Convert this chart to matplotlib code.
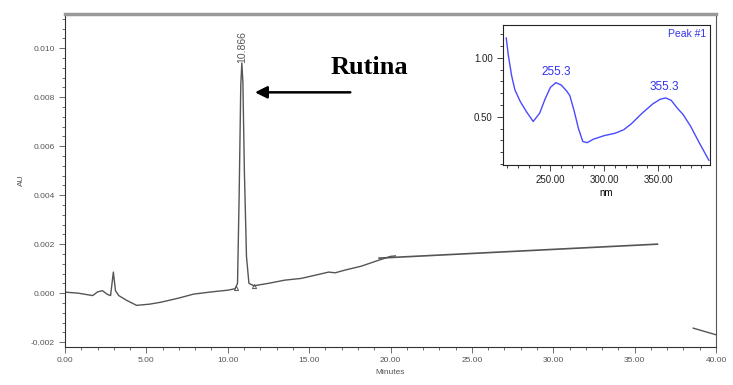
import matplotlib
matplotlib.use("Agg")
import matplotlib.pyplot as plt
from matplotlib.ticker import MultipleLocator, FormatStrFormatter

# chromatogram (minutes, AU)
t_min = [0.0, 0.8, 1.7, 2.0, 2.3, 2.6, 2.8, 2.97, 3.1, 3.3, 3.8, 4.4, 5.2, 5.9, 7.0, 7.9,
         9.0, 10.0, 10.45, 10.6, 10.7, 10.8, 10.866, 10.93, 11.02, 11.15, 11.3, 11.6,
         12.5, 13.5, 14.5, 15.3, 16.2, 16.6, 17.2, 18.2, 19.3, 20.0, 20.3]
au = [0.00004, 0.0, -0.0001, 0.00005, 0.0001, -0.00005, -0.0001, 0.00086, 0.0001, -0.0001,
      -0.0003, -0.0005, -0.00045, -0.00037, -0.0002, -0.00004, 0.00005, 0.00012, 0.00018,
      0.0004, 0.004, 0.0085, 0.0094, 0.0086, 0.0050, 0.0015, 0.0004, 0.0003,
      0.0004, 0.00053, 0.0006, 0.00072, 0.00086, 0.00083, 0.00094, 0.0011, 0.00135, 0.0015, 0.00152]
# drawn baseline segments
base_t = [19.3, 36.4]
base_au = [0.00143, 0.0020]
tail_t = [38.6, 40.0]
tail_au = [-0.00143, -0.0017]
peak_rt = "10.866"
peak_marks_t = [10.5, 11.6]
peak_marks_au = [0.0002, 0.0003]

# UV spectrum of peak #1 (nm, AU)
nm = [209, 211, 214, 217, 222, 228, 234, 240, 245, 250, 255, 260, 265, 268, 272, 276, 280,
      284, 290, 300, 310, 318, 325, 335, 345, 352, 357, 362, 368, 373, 380, 388, 397]
absb = [1.17, 1.02, 0.85, 0.73, 0.63, 0.54, 0.46, 0.53, 0.65, 0.75, 0.79, 0.77, 0.72, 0.68,
        0.55, 0.40, 0.29, 0.28, 0.31, 0.34, 0.36, 0.39, 0.44, 0.53, 0.61, 0.65, 0.66, 0.64,
        0.57, 0.52, 0.42, 0.28, 0.13]
spec_peaks = [255.3, 355.3]
spec_peak_abs = [0.79, 0.66]

grey = "#555555"
fig = plt.figure(figsize=(7.33, 3.85), dpi=100)
ax = fig.add_axes([0.0887, 0.0987, 0.8881, 0.865])
ax.plot(t_min, au, color=grey, lw=1.0)
ax.plot(base_t, base_au, color=grey, lw=1.2)
ax.plot(tail_t, tail_au, color=grey, lw=1.0)
ax.plot(peak_marks_t, peak_marks_au, ls="none", marker="^", ms=3, mfc="none", mec=grey, mew=0.7)
ax.text(10.866, 0.0094, peak_rt, rotation=90, ha="center", va="bottom", fontsize=7.5, color=grey,
        family="Liberation Sans")

ax.set_xlim(0, 40)
ax.set_ylim(-0.0022, 0.0114)
ax.xaxis.set_major_locator(MultipleLocator(5))
ax.xaxis.set_minor_locator(MultipleLocator(1))
ax.yaxis.set_major_locator(MultipleLocator(0.002))
ax.yaxis.set_minor_locator(MultipleLocator(0.0004))
ax.xaxis.set_major_formatter(FormatStrFormatter("%.2f"))
ax.yaxis.set_major_formatter(FormatStrFormatter("%.3f"))
ax.tick_params(which="both", direction="out", colors=grey, labelsize=6, width=0.6)
ax.tick_params(which="major", length=4)
ax.tick_params(which="minor", length=2)
for lab in ax.get_xticklabels() + ax.get_yticklabels():
    lab.set_family("Liberation Sans")
for s in ax.spines.values():
    s.set_color(grey)
ax.spines["top"].set_color("#999999")
ax.spines["top"].set_linewidth(2.5)
ax.spines["left"].set_color("#333333")
ax.spines["bottom"].set_color("#333333")
ax.set_xlabel("Minutes", fontsize=6, color=grey, family="Liberation Sans", labelpad=3)
ax.set_ylabel("AU", fontsize=6, color=grey, family="Liberation Sans", labelpad=4)

ax.annotate("", xy=(11.5, 0.0082), xytext=(17.7, 0.0082),
            arrowprops=dict(arrowstyle="-|>", color="black", lw=1.8, mutation_scale=18))
ax.text(16.3, 0.0092, "Rutina", fontsize=19, fontweight="bold", family="Liberation Serif",
        ha="left", va="center")

ins = fig.add_axes([0.6862, 0.5714, 0.2824, 0.3636])
ins.plot(nm, absb, color="#4a4aff", lw=1.0)
for x, y in zip(spec_peaks, spec_peak_abs):
    ins.text(x, y + 0.04, f"{x:.1f}", color="#3333ee", fontsize=8.5, ha="center", va="bottom",
             family="Liberation Sans")
ins.text(0.98, 0.97, "Peak #1", transform=ins.transAxes, color="#3333ee", fontsize=7.5,
         ha="right", va="top", family="Liberation Sans")
ins.set_xlim(206, 398)
ins.set_ylim(0.09, 1.28)
ins.xaxis.set_major_locator(MultipleLocator(50))
ins.xaxis.set_minor_locator(MultipleLocator(10))
ins.yaxis.set_major_locator(MultipleLocator(0.5))
ins.yaxis.set_minor_locator(MultipleLocator(0.1))
ins.xaxis.set_major_formatter(FormatStrFormatter("%.2f"))
ins.yaxis.set_major_formatter(FormatStrFormatter("%.2f"))
ins.tick_params(which="both", direction="out", labelsize=7, width=0.6, colors="#222222")
ins.tick_params(which="major", length=4)
ins.tick_params(which="minor", length=2)
for lab in ins.get_xticklabels() + ins.get_yticklabels():
    lab.set_family("Liberation Sans")
for s in ins.spines.values():
    s.set_color("#222222")
ins.set_xlabel("nm", fontsize=7, family="Liberation Sans", labelpad=2)

fig.savefig("out.png", dpi=100)
